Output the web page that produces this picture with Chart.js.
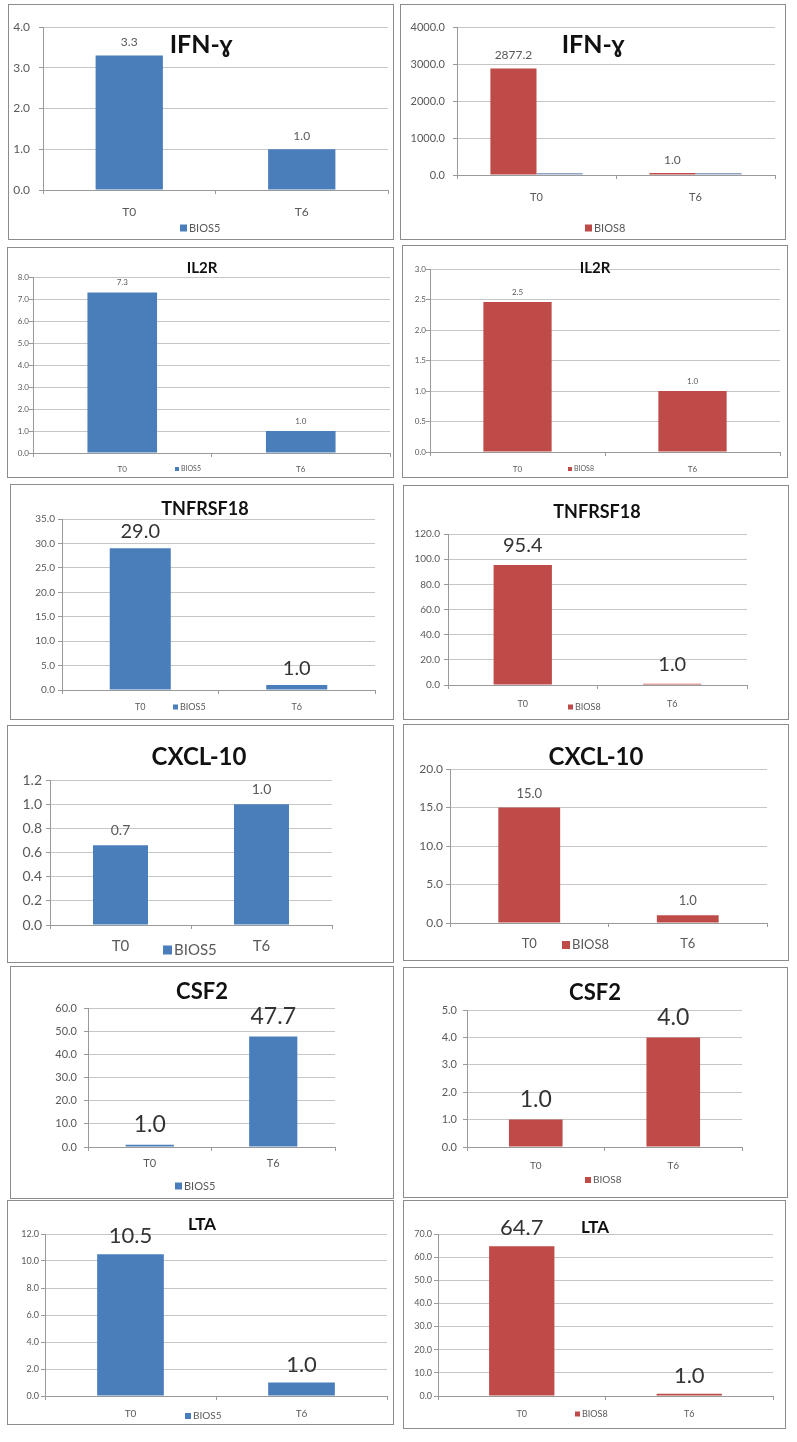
<!DOCTYPE html>
<html><head><meta charset="utf-8">
<script src="https://cdn.jsdelivr.net/npm/chart.js@4"></script>
<style>
html,body{margin:0;padding:0;background:#fff;}
body{width:797px;height:1442px;position:relative;overflow:hidden;}
.frame{position:absolute;border:1px solid #8c8c8c;box-sizing:border-box;background:#fff;}
.frame canvas{position:absolute;left:0;top:0;}
</style></head><body>
<script>
// ---------- data ----------
const categories = ['T0', 'T6'];
const geneTitles = ['IFN-\u0263', 'IL2R', 'TNFRSF18', 'CXCL-10', 'CSF2', 'LTA'];
const seriesNames = ['BIOS5', 'BIOS8'];

const ifngBIOS5 = [3.3, 1.0];
const ifngBIOS8 = [2877.2, 1.0];
const ifngBIOS8Other = [1.0, 1.0];
const il2rBIOS5 = [7.3, 1.0];
const il2rBIOS8 = [2.46, 1.0];
const tnfrsf18BIOS5 = [29.0, 1.0];
const tnfrsf18BIOS8 = [95.4, 1.0];
const cxcl10BIOS5 = [0.66, 1.0];
const cxcl10BIOS8 = [15.0, 1.0];
const csf2BIOS5 = [1.0, 47.7];
const csf2BIOS8 = [1.0, 4.0];
const ltaBIOS5 = [10.5, 1.0];
const ltaBIOS8 = [64.7, 1.0];

// y-axis tick ranges per panel (reading order)
const yAxisMax  = [4, 4000, 8, 3.0, 35, 120, 1.2, 20, 60, 5, 12, 70];
const yAxisStep = [1, 1000, 1, 0.5, 5, 20, 0.2, 5, 10, 1, 2, 10];

// ---------- styles ----------
const BLUE = '#4A7EBB', RED = '#BE4B48', OTHER = '#8FA3C4';
const FAM = "Lato, 'Noto Sans', 'DejaVu Sans', sans-serif";
const TXT = '#595959', GRID = '#c6c6c6', AXIS = '#9a9a9a';
Chart.defaults.font.family = FAM;

// layout per panel (page pixel coordinates)
const panels = [
  {frame:[8,4,393,239], plot:[43,27,388,190], tickFont:12, gap:13, xFont:12, xLabelY:212,
   title:{i:0,x:201,y:45,size:25}, labFont:12, labOff:13, labColor:TXT, legend:{x:180,y:228,size:11},
   sets:[{data:ifngBIOS5, name:0, color:BLUE}]},
  {frame:[400,4,785,239], plot:[457,27,775,175], tickFont:11, gap:12, xFont:11, xLabelY:197,
   title:{i:0,x:593,y:45,size:25}, labFont:12, labOff:13, labColor:TXT, legend:{x:585,y:228,size:11},
   catPct:0.58, barPct:1, minLen:2,
   sets:[{data:ifngBIOS8, name:1, color:RED}, {data:ifngBIOS8Other, name:null, color:OTHER, noLabel:true}]},
  {frame:[7,247,393,477], plot:[33,277,390,453], tickFont:8, gap:3, xFont:8, xLabelY:469,
   title:{i:1,x:202,y:268,size:15}, labFont:8, labOff:10, labColor:TXT, legend:{x:175,y:469,size:7},
   sets:[{data:il2rBIOS5, name:0, color:BLUE}]},
  {frame:[402,245,787,477], plot:[430,269,780,452], tickFont:8, gap:3, xFont:8, xLabelY:469,
   title:{i:1,x:595,y:268,size:15}, labFont:8, labOff:10, labColor:TXT, legend:{x:568,y:469,size:7},
   sets:[{data:il2rBIOS8, name:1, color:RED}]},
  {frame:[10,484,393,719], plot:[62,519,375,690], tickFont:10, gap:7, xFont:9, xLabelY:707,
   title:{i:2,x:205,y:509,size:18}, labFont:20, labOff:17, labColor:'#333', legend:{x:173,y:707,size:9},
   sets:[{data:tnfrsf18BIOS5, name:0, color:BLUE}]},
  {frame:[403,485,788,719], plot:[448,534,747,685], tickFont:10, gap:8, xFont:9, xLabelY:704,
   title:{i:2,x:597,y:512,size:18}, labFont:20, labOff:19, labColor:'#333', legend:{x:568,y:707,size:9},
   sets:[{data:tnfrsf18BIOS8, name:1, color:RED}]},
  {frame:[7,725,393,962], plot:[50,780,332,925], tickFont:14, gap:8, xFont:15, xLabelY:946,
   title:{i:3,x:199,y:757,size:24}, labFont:14, labOff:15, labColor:TXT, legend:{x:163,y:950,size:15},
   sets:[{data:cxcl10BIOS5, name:0, color:BLUE}]},
  {frame:[403,724,788,960], plot:[450,769,767,923], tickFont:12, gap:7, xFont:13, xLabelY:944,
   title:{i:3,x:596,y:757,size:24}, labFont:13, labOff:14, labColor:TXT, legend:{x:562,y:945,size:13},
   sets:[{data:cxcl10BIOS8, name:1, color:RED}]},
  {frame:[10,966,393,1198], plot:[88,1008,335,1147], tickFont:11, gap:11, xFont:11, xLabelY:1163,
   title:{i:4,x:202,y:992,size:22}, labFont:23, labOff:20, labColor:'#333', legend:{x:175,y:1186,size:11},
   sets:[{data:csf2BIOS5, name:0, color:BLUE}]},
  {frame:[403,967,787,1197], plot:[467,1010,742,1147], tickFont:11, gap:10, xFont:10, xLabelY:1166,
   title:{i:4,x:595,y:993,size:22}, labFont:23, labOff:20, labColor:'#333', legend:{x:585,y:1180,size:10},
   sets:[{data:csf2BIOS8, name:1, color:RED}]},
  {frame:[7,1200,393,1424], plot:[45,1234,387,1396], tickFont:9, gap:6, xFont:10, xLabelY:1414,
   title:{i:5,x:202,y:1225,size:17}, labFont:22, labOff:18, labColor:'#333', legend:{x:185,y:1416,size:10},
   sets:[{data:ltaBIOS5, name:0, color:BLUE}]},
  {frame:[403,1200,785,1428], plot:[438,1234,773,1396], tickFont:9, gap:6, xFont:9, xLabelY:1414,
   title:{i:5,x:595,y:1228,size:17}, labFont:22, labOff:18, labColor:'#333', legend:{x:575,y:1414,size:9},
   sets:[{data:ltaBIOS8, name:1, color:RED}]}
];

function makePanel(p, idx) {
  const [fl, ft, fr, fb] = p.frame;
  const div = document.createElement('div');
  div.className = 'frame';
  div.style.left = fl + 'px'; div.style.top = ft + 'px';
  div.style.width = (fr - fl + 1) + 'px'; div.style.height = (fb - ft + 1) + 'px';
  document.body.appendChild(div);
  const W = fr - fl - 1, H = fb - ft - 1, ox = fl + 1, oy = ft + 1;
  const cv = document.createElement('canvas');
  cv.width = W; cv.height = H; cv.style.width = W + 'px'; cv.style.height = H + 'px';
  div.appendChild(cv);
  const [pl, pt, pr, pb] = p.plot;
  const tl = 4;

  const extras = {
    id: 'extras' + idx,
    afterDatasetsDraw(chart) {
      const ctx = chart.ctx;
      ctx.save();
      // value labels
      ctx.font = `${p.labFont}px ${FAM}`;
      ctx.fillStyle = p.labColor;
      ctx.textAlign = 'center'; ctx.textBaseline = 'middle';
      chart.data.datasets.forEach((ds, di) => {
        if (ds.noLabel) return;
        chart.getDatasetMeta(di).data.forEach((bar, j) => {
          ctx.fillText(ds.data[j].toFixed(1), bar.x, bar.y - p.labOff);
        });
      });
      // title
      ctx.font = `bold ${p.title.size}px ${FAM}`;
      ctx.fillStyle = '#111';
      ctx.fillText(geneTitles[p.title.i], p.title.x - ox, p.title.y - oy);
      // legend (first named dataset)
      const ds = chart.data.datasets[0];
      const s = p.legend.size;
      const box = Math.round(s * 0.6);
      const lx = p.legend.x - ox, ly = p.legend.y - oy;
      ctx.fillStyle = ds.backgroundColor;
      ctx.fillRect(lx, ly - box / 2, box, box);
      ctx.font = `${s}px ${FAM}`;
      ctx.fillStyle = TXT; ctx.textAlign = 'left';
      ctx.fillText(ds.label, lx + box + 2, ly);
      ctx.restore();
    }
  };

  new Chart(cv, {
    type: 'bar',
    data: {
      labels: categories,
      datasets: p.sets.map(s => ({
        label: s.name === null ? '' : seriesNames[s.name],
        data: s.data,
        backgroundColor: s.color,
        borderWidth: 0,
        noLabel: !!s.noLabel,
        categoryPercentage: p.catPct || 1,
        barPercentage: p.barPct || 0.39,
        minBarLength: p.minLen || 0
      }))
    },
    options: {
      responsive: false, animation: false, devicePixelRatio: 1,
      layout: { padding: { left: 0, bottom: 0, top: pt - oy, right: ox + W - pr } },
      plugins: { legend: { display: false }, tooltip: { enabled: false }, title: { display: false } },
      scales: {
        x: {
          grid: { display: true, drawOnChartArea: false, offset: true, tickLength: tl, color: AXIS },
          border: { display: true, color: AXIS },
          ticks: { font: { size: p.xFont }, color: TXT, maxRotation: 0, autoSkip: false,
                   padding: Math.max(0, p.xLabelY - pb - tl - 0.6 * p.xFont) },
          afterFit: s => { s.height = oy + H - pb; }
        },
        y: {
          min: 0, max: yAxisMax[idx],
          ticks: { stepSize: yAxisStep[idx], callback: v => Number(v).toFixed(1),
                   font: { size: p.tickFont }, color: TXT, padding: Math.max(0, p.gap - tl) },
          grid: { color: GRID, tickLength: tl, tickColor: AXIS },
          border: { display: true, color: AXIS },
          afterFit: s => { s.width = pl - ox; }
        }
      }
    },
    plugins: [extras]
  });
}
panels.forEach(makePanel);
</script>
</body></html>
